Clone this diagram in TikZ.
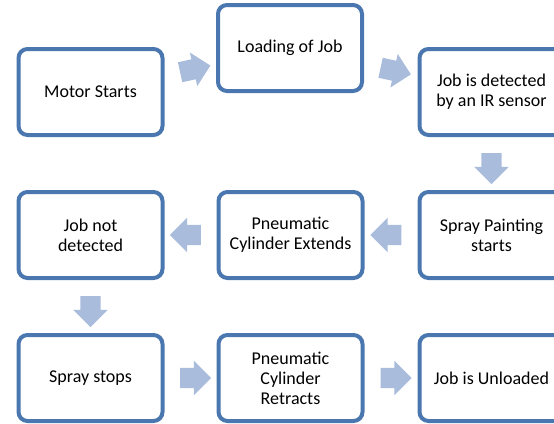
\documentclass[tikz,border=0pt]{standalone}
\usepackage{fontspec}
\setmainfont{Carlito}
\usetikzlibrary{shapes.arrows}
\definecolor{boxblue}{HTML}{4A77AF}
\definecolor{arrblue}{HTML}{A9BCDB}
\begin{document}
\begin{tikzpicture}[x=1pt,y=-1pt,
 box/.style={draw=boxblue, line width=4pt, rounded corners=9pt, fill=white,
   minimum width=144pt, minimum height=86pt, align=center,
   font=\fontsize{18}{20}\selectfont, inner sep=0pt},
 barrow/.style={single arrow, fill=arrblue, draw=none, minimum height=31pt,
   single arrow head extend=7pt, inner sep=0pt,
   sloped, allow upside down}]
\useasboundingbox (0,0) rectangle (554,423);
\clip (0,0) rectangle (554,423);
\node[box] (motor) at (90.5,92) {Motor Starts};
\node[box] (load) at (290,48) {Loading of Job};
\node[box] (detect) at (491.5,92) {Job is detected\\by an IR sensor};
\node[box] (spray) at (491.5,235) {Spray Painting\\starts};
\node[box] (extend) at (290.5,235) {Pneumatic\\Cylinder Extends};
\node[box] (notdet) at (90.5,235) {Job not\\detected};
\node[box] (stops) at (90.5,378) {Spray stops};
\node[box] (retract) at (290.5,378) {Pneumatic\\Cylinder\\Retracts};
\node[box] (unload) at (491.5,378) {Job is Unloaded};
\path (motor.center) -- (load.center) node[midway, barrow] {\rule{0pt}{20pt}};
\path (load.center) -- (detect.center) node[midway, barrow] {\rule{0pt}{20pt}};
\path (detect.center) -- (spray.center) node[midway, barrow] {\rule{0pt}{20pt}};
\path (spray.center) -- (extend.center) node[midway, barrow] {\rule{0pt}{20pt}};
\path (extend.center) -- (notdet.center) node[midway, barrow] {\rule{0pt}{20pt}};
\path (notdet.center) -- (stops.center) node[midway, barrow] {\rule{0pt}{20pt}};
\path (stops.center) -- (retract.center) node[midway, barrow] {\rule{0pt}{20pt}};
\path (retract.center) -- (unload.center) node[midway, barrow] {\rule{0pt}{20pt}};
\end{tikzpicture}
\end{document}
